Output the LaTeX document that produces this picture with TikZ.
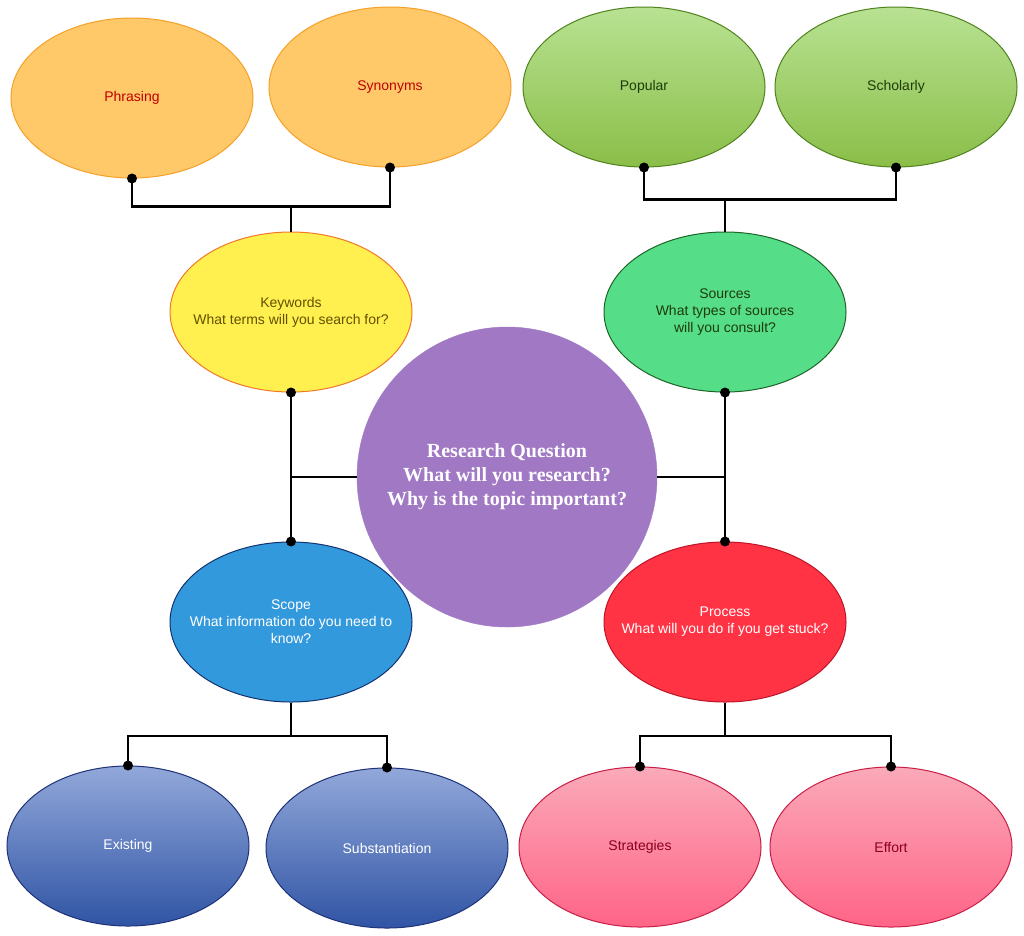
\documentclass[tikz,border=0pt]{standalone}
\usepackage{fontspec}
\usetikzlibrary{shapes.geometric}
\setmainfont{Liberation Sans}
\newfontfamily\serifb{Liberation Serif}
\definecolor{dred}{RGB}{192,0,0}
\definecolor{dgrn}{RGB}{30,60,10}
\definecolor{dpk}{RGB}{140,0,30}
\definecolor{dolive}{RGB}{100,80,0}
\begin{document}
\begin{tikzpicture}[x=1pt,y=-1pt,
 ell/.style={ellipse,minimum width=242pt,minimum height=160pt,line width=1pt,inner sep=0pt},
 tx/.style={align=center,font=\fontsize{14}{17}\selectfont,text=#1},
 eor/.style={ell,fill={rgb,255:red,255;green,201;blue,106},draw={rgb,255:red,245;green,160;blue,40}},
 egr/.style={ell,top color={rgb,255:red,184;green,226;blue,146},bottom color={rgb,255:red,138;green,190;blue,72},draw={rgb,255:red,80;green,130;blue,30}},
 ebl/.style={ell,top color={rgb,255:red,146;green,168;blue,218},bottom color={rgb,255:red,48;green,84;blue,164},draw={rgb,255:red,30;green,50;blue,120}},
 epk/.style={ell,top color={rgb,255:red,250;green,170;blue,185},bottom color={rgb,255:red,255;green,100;blue,135},draw={rgb,255:red,200;green,30;blue,70}},
 ln/.style={line width=2.2pt,black},
 dot/.style={circle,fill=black,inner sep=0pt,minimum size=10pt}]
\useasboundingbox[fill=white] (0,0) rectangle (1024,935);
\node[eor,label={[tx=dred]center:Phrasing}] (phr) at (132,98) {};
\node[eor,label={[tx=dred]center:Synonyms}] (syn) at (390,87) {};
\node[egr,label={[tx=dgrn]center:Popular}] (pop) at (644,87) {};
\node[egr,label={[tx=dgrn]center:Scholarly}] (sch) at (896,87) {};
\node[ell,fill={rgb,255:red,255;green,240;blue,80},draw={rgb,255:red,240;green,120;blue,40},label={[tx=dolive]center:{Keywords\\What terms will you search for?}}] (key) at (291,312) {};
\node[ell,fill={rgb,255:red,85;green,221;blue,136},draw={rgb,255:red,30;green,100;blue,40},label={[tx=dgrn]center:{Sources\\What types of sources\\will you consult?}}] (src) at (725,312) {};
\node[circle,minimum size=300pt,fill={rgb,255:red,160;green,120;blue,196},draw={rgb,255:red,160;green,120;blue,196},text=white,align=center,font=\serifb\bfseries\fontsize{20}{24}\selectfont] (rq) at (507,477) {Research Question\\What will you research?\\Why is the topic important?};
\node[ell,fill={rgb,255:red,51;green,153;blue,221},draw={rgb,255:red,20;green,50;blue,110},label={[tx=white]center:{Scope\\What information do you need to\\know?}}] (scp) at (291,622) {};
\node[ell,fill={rgb,255:red,255;green,51;blue,68},draw={rgb,255:red,190;green,20;blue,40},label={[tx=white]center:{Process\\What will you do if you get stuck?}}] (prc) at (725,622) {};
\node[ebl,label={[tx=white]center:Existing}] (exi) at (128,846) {};
\node[ebl,label={[tx=white]center:Substantiation}] (sub) at (387,848) {};
\node[epk,label={[tx=dpk]center:Strategies}] (str) at (640,847) {};
\node[epk,label={[tx=dpk]center:Effort}] (eff) at (891,847) {};
\draw[ln] (phr.south) -- ++(0,28) -| (syn.south);
\draw[ln] (291,206) -- (key.north);
\draw[ln] (pop.south) -- ++(0,32) -| (sch.south);
\draw[ln] (725,200) -- (src.north);
\draw[ln] (key.south) -- (scp.north);
\draw[ln] (291,477) -- (rq.west);
\draw[ln] (src.south) -- (prc.north);
\draw[ln] (rq.east) -- (725,477);
\draw[ln] (scp.south) -- (291,736);
\draw[ln] (exi.north) -- (128,736) -- (387,736) -- (sub.north);
\draw[ln] (prc.south) -- (725,736);
\draw[ln] (str.north) -- (640,736) -- (891,736) -- (eff.north);
\foreach \n in {phr.south,syn.south,pop.south,sch.south,key.south,src.south,scp.north,prc.north,exi.north,sub.north,str.north,eff.north}
 \node[dot] at (\n) {};
\end{tikzpicture}
\end{document}
